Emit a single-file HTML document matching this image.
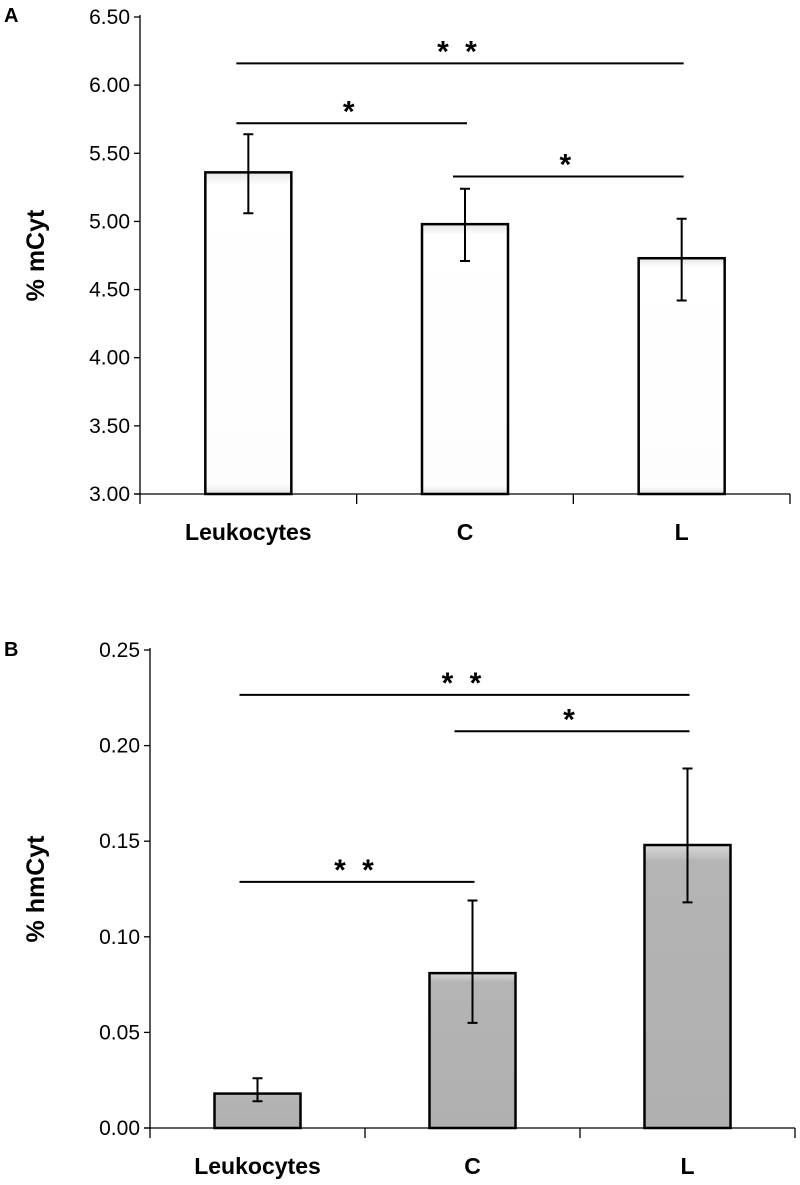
<!DOCTYPE html>
<html><head><meta charset="utf-8"><style>
body{margin:0;background:#fff;}
svg{display:block;font-family:"Liberation Sans",sans-serif;}
</style></head><body>
<svg id="chart" width="800" height="1185">
<defs>
<linearGradient id="gw" x1="0" y1="0" x2="0" y2="1"><stop offset="0" stop-color="#e6e6e6"/><stop offset="0.04" stop-color="#ffffff"/><stop offset="0.97" stop-color="#fdfdfd"/><stop offset="1" stop-color="#e0e0e0"/></linearGradient>
<linearGradient id="gg" x1="0" y1="0" x2="0" y2="1"><stop offset="0" stop-color="#d8d8d8"/><stop offset="0.06" stop-color="#b4b4b4"/><stop offset="1" stop-color="#b0b0b0"/></linearGradient>
</defs>
</svg>
<script>
const categories = ["Leukocytes","C","L"];
const mCytValues = [5.36, 4.98, 4.73];
const mCytErrHi = [5.64, 5.24, 5.02];
const mCytErrLo = [5.06, 4.71, 4.42];
const mCytTicks = ["3.00","3.50","4.00","4.50","5.00","5.50","6.00","6.50"];
const hmCytValues = [0.018, 0.081, 0.148];
const hmCytErrHi = [0.026, 0.119, 0.188];
const hmCytErrLo = [0.014, 0.055, 0.118];
const hmCytTicks = ["0.00","0.05","0.10","0.15","0.20","0.25"];
const mCytSig = [[0,2,6.16,"* *"],[0,1,5.72,"*"],[1,2,5.33,"*"]];
const hmCytSig = [[0,2,0.2265,"* *"],[1,2,0.2075,"*"],[0,1,0.1287,"* *"]];

const svg = document.getElementById('chart');
const NS = "http://www.w3.org/2000/svg";
function mk(tag, attrs, parent){const e=document.createElementNS(NS,tag);for(const k in attrs)e.setAttribute(k,attrs[k]);(parent||svg).appendChild(e);return e;}

function panel(cfg){
  const g = mk('g',{});
  
  
  const y = v => cfg.y0 - (v - cfg.vmin)/(cfg.vmax-cfg.vmin)*(cfg.y0-cfg.y1);
  const slot = (cfg.xEnd - cfg.ax)/categories.length;
  const cx = i => cfg.ax + slot*(i+0.5);
  cfg.ticks.forEach(t=>{
    const v=parseFloat(t);
    const ln=mk('line',{x1:cfg.ax-6,x2:cfg.ax,y1:y(v),y2:y(v),stroke:'#000','stroke-width':1.3},g);
    
    
    const tx=mk('text',{x:cfg.ax-10,y:y(v)+7,'text-anchor':'end','font-size':21,fill:'#000'},g);
    tx.textContent=t;
    
    
  });
  const ya=mk('line',{x1:cfg.ax,x2:cfg.ax,y1:cfg.y1-2,y2:cfg.y0,stroke:'#000','stroke-width':1.3},g);
  
  
  const yt=mk('text',{x:0,y:0,'font-size':25,'font-weight':'bold','text-anchor':'middle',transform:`translate(${cfg.titleX},${(cfg.y0+cfg.y1)/2}) rotate(-90)`},g);
  yt.textContent=cfg.title;
  
  
  cfg.values.forEach((v,i)=>{
    const b=mk('rect',{x:cx(i)-43,y:y(v),width:86,height:cfg.y0-y(v),fill:cfg.fill,stroke:'#000','stroke-width':2.5},g);
    
    
    const e=mk('path',{d:`M${cx(i)} ${y(cfg.hi[i])}V${y(cfg.lo[i])}M${cx(i)-5} ${y(cfg.hi[i])}H${cx(i)+5}M${cx(i)-5} ${y(cfg.lo[i])}H${cx(i)+5}`,stroke:'#000','stroke-width':2,fill:'none'},g);
    
    
    const lb=mk('text',{x:cx(i),y:cfg.y0+46,'text-anchor':'middle','font-size':23,'font-weight':'bold'},g);
    lb.textContent=categories[i];
    
    
  });
  const xa=mk('line',{x1:cfg.ax-6,x2:cfg.xEnd,y1:cfg.y0,y2:cfg.y0,stroke:'#000','stroke-width':1.3},g);
  
  
  for(let i=0;i<=categories.length;i++){
    const xt=mk('line',{x1:cfg.ax+slot*i,x2:cfg.ax+slot*i,y1:cfg.y0,y2:cfg.y0+10,stroke:'#000','stroke-width':1.3},g);
    
    
  }
  cfg.sig.forEach(s=>{
    const l=mk('line',{x1:cx(s[0])-cfg.sigOff,x2:cx(s[1])+2,y1:y(s[2]),y2:y(s[2]),stroke:'#000','stroke-width':2},g);
    
    
    const t=mk('text',{x:(cx(s[0])-cfg.sigOff+cx(s[1]))/2,y:y(s[2])-2,'text-anchor':'middle','font-size':30,'font-weight':'bold','letter-spacing':'4'},g);
    t.textContent=s[3];
    
    
  });
  const pl=mk('text',{x:4,y:cfg.labelY,'font-size':20,'font-weight':'bold'},g);
  pl.textContent=cfg.letter;
  
  
}
panel({name:'panel-a',ax:140,xEnd:790,y0:494,y1:17,vmin:3,vmax:6.5,ticks:mCytTicks,values:mCytValues,hi:mCytErrHi,lo:mCytErrLo,fill:'url(#gw)',title:'% mCyt',titleX:44,sig:mCytSig,letter:'A',labelY:22,sigOff:12});
panel({name:'panel-b',ax:150,xEnd:795,y0:1128,y1:650,vmin:0,vmax:0.25,ticks:hmCytTicks,values:hmCytValues,hi:hmCytErrHi,lo:hmCytErrLo,fill:'url(#gg)',title:'% hmCyt',titleX:44,sig:hmCytSig,letter:'B',labelY:656,sigOff:18});
</script>
</body></html>
